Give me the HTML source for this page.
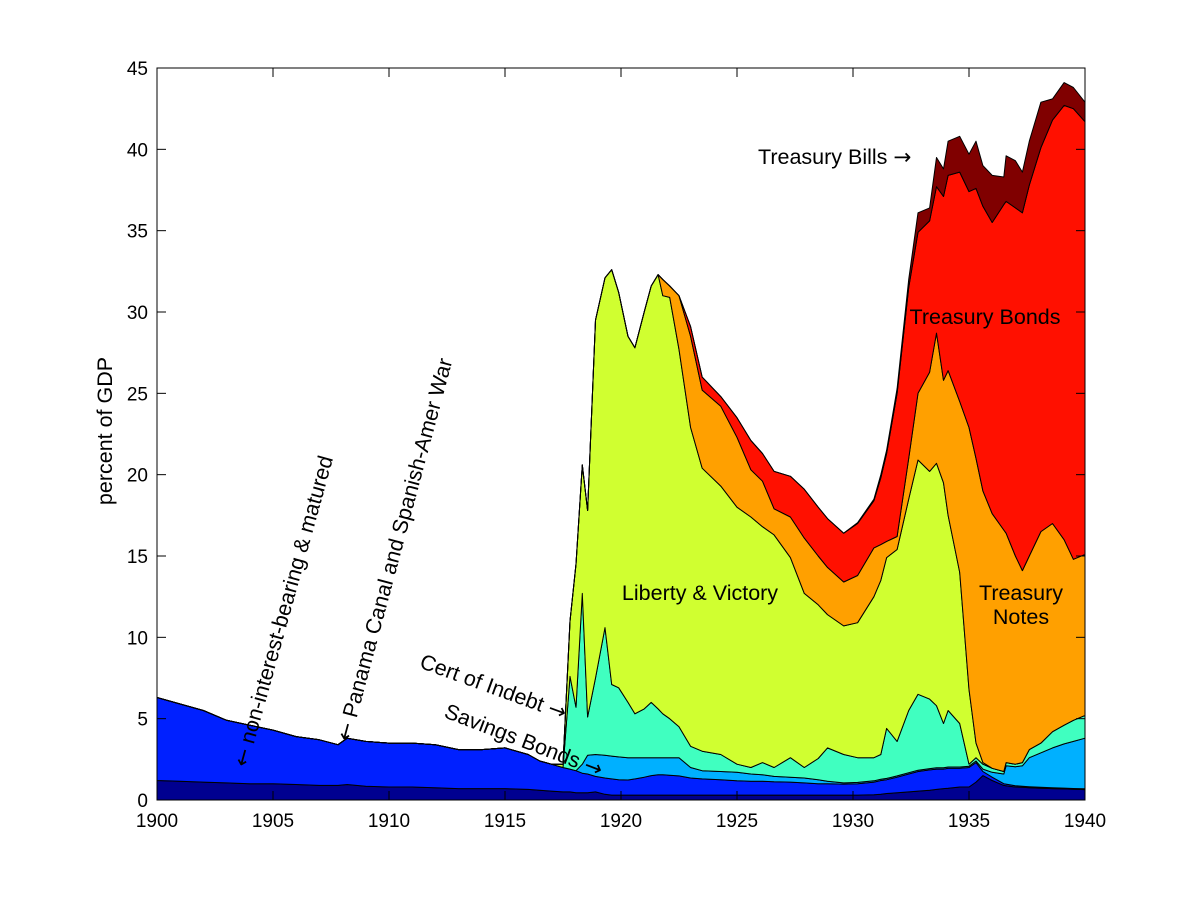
<!DOCTYPE html>
<html><head><meta charset="utf-8"><style>
html,body{margin:0;padding:0;background:#fff;}
svg{display:block;font-family:"Liberation Sans",Arial,sans-serif;}
</style></head><body>
<svg id="chart" width="1200" height="900" viewBox="0 0 1200 900" xmlns="http://www.w3.org/2000/svg">
<rect x="0" y="0" width="1200" height="900" fill="#fff"/>
<g id="layers"></g>
<g id="axes"></g>
<g id="notes" font-size="21.5" fill="#000"></g>
</svg>
<script>
const years = [1900,1901,1902,1903,1904,1905,1906,1907,1907.8,1908.2,1909,1910,1911,1912,1913,1914,1915,1916,1916.5,1917,1917.5,1917.8,1918.06,1918.33,1918.56,1918.9,1919.31,1919.6,1919.9,1920.3,1920.6,1921.0,1921.3,1921.6,1921.8,1922.1,1922.5,1923.0,1923.5,1924.3,1925.0,1925.6,1926.1,1926.6,1927.3,1927.9,1928.5,1928.9,1929.6,1930.2,1930.9,1931.2,1931.45,1931.9,1932.4,1932.8,1933.3,1933.6,1933.9,1934.1,1934.6,1935.0,1935.3,1935.6,1936.0,1936.5,1936.6,1937.0,1937.3,1937.6,1938.1,1938.6,1939.1,1939.5,1940];
const nonInterest = [1.2,1.15,1.1,1.05,1.0,1.0,0.95,0.9,0.9,0.95,0.85,0.8,0.8,0.75,0.7,0.7,0.7,0.65,0.6,0.55,0.5,0.5,0.45,0.45,0.45,0.5,0.35,0.3,0.3,0.3,0.3,0.3,0.3,0.3,0.3,0.3,0.3,0.3,0.3,0.3,0.3,0.3,0.3,0.3,0.3,0.3,0.3,0.3,0.3,0.3,0.32,0.35,0.4,0.45,0.5,0.55,0.6,0.65,0.7,0.72,0.8,0.8,1.1,1.5,1.2,0.9,0.88,0.8,0.78,0.75,0.72,0.7,0.68,0.66,0.64];
const panamaSpanish = [5.1,4.75,4.4,3.85,3.6,3.3,2.95,2.8,2.5,2.85,2.75,2.7,2.7,2.65,2.4,2.4,2.5,2.15,1.8,1.65,1.5,1.4,1.35,1.2,1.15,0.95,1.0,1.0,0.95,0.93,1.0,1.1,1.2,1.25,1.25,1.22,1.18,1.05,1.0,0.95,0.88,0.85,0.85,0.82,0.8,0.75,0.7,0.7,0.68,0.7,0.78,0.85,0.85,0.95,1.1,1.2,1.25,1.25,1.2,1.23,1.15,1.2,1.2,0.25,0.2,0.1,0.1,0.08,0.07,0.07,0.06,0.05,0.05,0.05,0.05];
const savingsBonds = [0,0,0,0,0,0,0,0,0,0,0,0,0,0,0,0,0,0,0,0,0,0,0,0.55,1.15,1.35,1.4,1.4,1.4,1.37,1.3,1.2,1.1,1.05,1.05,1.08,1.12,0.65,0.5,0.5,0.52,0.45,0.4,0.33,0.3,0.3,0.25,0.15,0.07,0.08,0.08,0.08,0.08,0.08,0.08,0.08,0.08,0.08,0.08,0.08,0.08,0.08,0.1,0.15,0.3,0.6,1.12,1.17,1.25,1.78,2.12,2.45,2.72,2.89,3.11];
const certIndebt = [0,0,0,0,0,0,0,0,0,0,0,0,0,0,0,0,0,0,0,0,0,5.7,3.9,10.5,2.35,4.7,7.85,4.4,4.25,3.4,2.7,3.0,3.4,3.0,2.7,2.4,1.9,1.3,1.2,1.05,0.5,0.4,0.75,0.55,1.2,0.65,1.3,2.05,1.75,1.52,1.42,1.52,3.07,2.12,3.82,4.67,4.27,3.82,2.72,3.47,2.67,0.12,0.2,0.3,0.25,0.15,0.2,0.15,0.2,0.5,0.6,1.0,1.15,1.3,1.4];
const libertyVictory = [0,0,0,0,0,0,0,0,0,0,0,0,0,0,0,0,0,0,0,0,0.2,3.4,8.8,7.9,12.7,22.0,21.5,25.5,24.3,22.5,22.5,24.4,25.6,26.7,25.7,25.9,23.2,19.6,17.4,16.5,15.8,15.4,14.5,14.3,12.3,10.7,9.45,8.2,7.9,8.3,9.9,10.7,10.5,11.8,13.0,14.4,14.0,14.9,14.8,12.0,9.3,4.6,0.9,0.1,0,0,0,0,0,0,0,0,0,0,0];
const treasuryNotes = [0,0,0,0,0,0,0,0,0,0,0,0,0,0,0,0,0,0,0,0,0,0,0,0,0,0,0,0,0,0,0,0,0,0,1.0,0.7,3.3,5.6,4.8,4.9,4.3,2.9,2.8,1.6,2.5,3.4,3.0,2.9,2.7,2.9,3.0,2.2,1.0,0.8,2.5,4.1,6.1,8.0,6.3,8.9,10.5,16.1,17.5,16.7,15.65,14.85,14.1,12.8,11.8,11.9,13.0,12.8,11.4,9.9,9.9];
const treasuryBonds = [0,0,0,0,0,0,0,0,0,0,0,0,0,0,0,0,0,0,0,0,0,0,0,0,0,0,0,0,0,0,0,0,0,0,0,0,0,0.6,0.8,0.6,1.2,1.8,1.7,2.3,2.5,3.0,3.0,3.0,3.0,3.2,2.9,4.1,5.4,8.8,10.5,9.9,9.3,9.0,11.3,12.0,14.1,14.5,16.6,17.5,17.9,20.0,20.4,21.4,22.0,22.8,23.6,24.8,26.7,27.7,26.6];
const treasuryBills = [0,0,0,0,0,0,0,0,0,0,0,0,0,0,0,0,0,0,0,0,0,0,0,0,0,0,0,0,0,0,0,0,0,0,0,0,0,0,0,0,0,0,0,0,0,0,0,0,0,0.05,0.1,0.2,0.2,0.3,0.5,1.2,0.8,1.8,1.7,2.1,2.2,2.3,2.9,2.5,2.9,1.7,2.8,2.9,2.5,2.7,2.8,1.3,1.4,1.3,1.2];
const xTicks = [1900,1905,1910,1915,1920,1925,1930,1935,1940];
const yTicks = [0,5,10,15,20,25,30,35,40,45];

const NS = "http://www.w3.org/2000/svg";
const L = 157, R = 1085, T = 68, B = 800;
const xS = v => L + (v - 1900) / 40 * (R - L);
const yS = v => B - v / 45 * (B - T);
function mk(tag, attrs, parent) {
  const e = document.createElementNS(NS, tag);
  for (const k in attrs) e.setAttribute(k, attrs[k]);
  parent.appendChild(e);
  return e;
}
const series = [nonInterest, panamaSpanish, savingsBonds, certIndebt, libertyVictory, treasuryNotes, treasuryBonds, treasuryBills];
const names = ['area-non-interest-bearing','area-panama-spanish-war','area-savings-bonds','area-cert-of-indebtedness','area-liberty-victory','area-treasury-notes','area-treasury-bonds','area-treasury-bills'];
const colors = ['#000090','#0020ff','#00b0ff','#40ffc0','#d0ff30','#ffa000','#ff1000','#800000'];
const layersG = document.getElementById('layers');
let base = years.map(() => 0);
series.forEach((s, i) => {
  const top = base.map((b, j) => b + s[j]);
  const up = years.map((y, j) => xS(y).toFixed(1) + ',' + yS(top[j]).toFixed(1));
  const down = years.map((y, j) => xS(y).toFixed(1) + ',' + yS(base[j]).toFixed(1)).reverse();
  const p = mk('polygon', {points: up.concat(down).join(' '), fill: colors[i], stroke: '#000', 'stroke-width': 1, 'stroke-linejoin': 'round'}, layersG);
  
  
  base = top;
});
const ax = document.getElementById('axes');
const frame = mk('rect', {x: L, y: T, width: R - L, height: B - T, fill: 'none', stroke: '#000', 'stroke-width': 1}, ax);


xTicks.forEach(t => {
  const x = xS(t);
  mk('line', {x1: x, y1: B, x2: x, y2: B - 9, stroke: '#000'}, ax);
  mk('line', {x1: x, y1: T, x2: x, y2: T + 9, stroke: '#000'}, ax);
  const tx = mk('text', {x: x, y: 827, 'text-anchor': 'middle', 'font-size': 19}, ax);
  tx.textContent = t;
  
  
});
yTicks.forEach(t => {
  const y = yS(t);
  mk('line', {x1: L, y1: y, x2: L + 9, y2: y, stroke: '#000'}, ax);
  mk('line', {x1: R, y1: y, x2: R - 9, y2: y, stroke: '#000'}, ax);
  const tx = mk('text', {x: 148, y: y + 7, 'text-anchor': 'end', 'font-size': 19}, ax);
  tx.textContent = t;
  
  
});
const yt = mk('text', {x: 0, y: 0, transform: 'translate(112,431) rotate(-90)', 'text-anchor': 'middle', 'font-size': 21.5}, ax);
yt.textContent = 'percent of GDP';



const notes = document.getElementById('notes');
function note(parts, name, attrs) {
  const t = mk('text', attrs, notes);
  parts.forEach(p => {
    const ts = mk('tspan', {}, t);
    if (p === '\u2192' || p === '\u2190') ts.setAttribute('font-family', 'DejaVu Sans, sans-serif');
    ts.textContent = p;
  });
  
  
}
note(['Treasury Bills ', '\u2192'], 'treasury-bills-label', {x: 758, y: 164});
note(['Treasury Bonds'], 'treasury-bonds-label', {x: 985, y: 324, 'text-anchor': 'middle'});
note(['Treasury'], 'treasury-notes-label-line1', {x: 1021, y: 600, 'text-anchor': 'middle'});
note(['Notes'], 'treasury-notes-label-line2', {x: 1021, y: 624, 'text-anchor': 'middle'});
note(['Liberty & Victory'], 'liberty-victory-label', {x: 700, y: 600, 'text-anchor': 'middle'});
note(['\u2190', ' non-interest-bearing & matured'], 'non-interest-label', {x: 0, y: 0, dy: '0.35em', transform: 'translate(240,766) rotate(-74.5)'});
note(['\u2190', ' Panama Canal and Spanish-Amer War'], 'panama-canal-label', {x: 0, y: 0, dy: '0.35em', transform: 'translate(343,740) rotate(-75)'});
note(['Cert of Indebt ', '\u2192'], 'cert-of-indebt-label', {x: 0, y: 0, dy: '0.35em', 'text-anchor': 'end', transform: 'translate(566,713) rotate(20)'});
note(['Savings Bonds ', '\u2192'], 'savings-bonds-label', {x: 0, y: 0, dy: '0.35em', 'text-anchor': 'end', transform: 'translate(602,770) rotate(21)'});
</script>
</body></html>
